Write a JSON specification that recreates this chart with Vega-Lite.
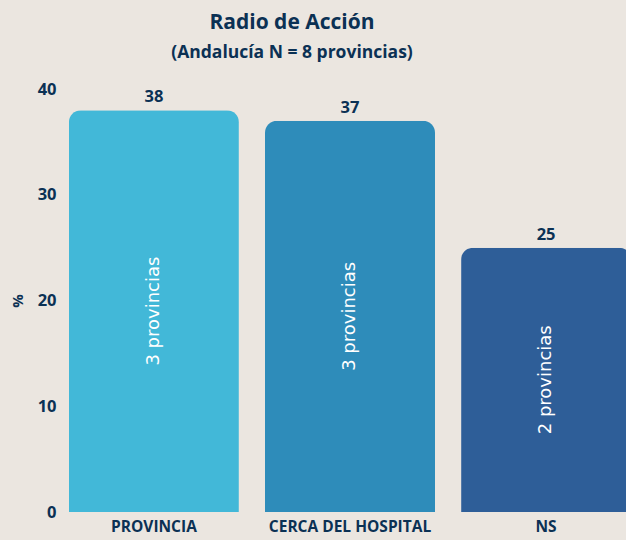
{
  "$schema": "https://vega.github.io/schema/vega-lite/v6.json",
  "width": 570,
  "height": 423,
  "autosize": "none",
  "padding": {"left": 65, "top": 89, "right": 0, "bottom": 28},
  "background": "#ebe6e0",
  "title": {
    "text": "Radio de Acción",
    "subtitle": "(Andalucía N = 8 provincias)",
    "anchor": "middle",
    "dx": -58,
    "font": "Open Sans",
    "fontSize": 21,
    "fontWeight": "bold",
    "color": "#0b3154",
    "subtitleFont": "Open Sans",
    "subtitleFontSize": 17.5,
    "subtitleFontWeight": "bold",
    "subtitleColor": "#0b3154",
    "subtitlePadding": 11,
    "offset": 20
  },
  "data": {
    "values": [
      {"cat": "PROVINCIA", "pct": 38, "label": "3 provincias"},
      {"cat": "CERCA DEL HOSPITAL", "pct": 37, "label": "3 provincias"},
      {"cat": "NS", "pct": 25, "label": "2 provincias"}
    ]
  },
  "config": {
    "view": {"stroke": null},
    "axis": {"labelFont": "Open Sans", "titleFont": "Open Sans", "labelColor": "#0b3154", "titleColor": "#0b3154"}
  },
  "encoding": {
    "x": {
      "field": "cat",
      "type": "nominal",
      "sort": null,
      "scale": {"paddingInner": 0.133, "paddingOuter": 0.02},
      "axis": {"title": null, "labelAngle": 0, "ticks": false, "domain": false, "labelFontSize": 15.5, "labelFontWeight": "bold", "labelPadding": 7}
    },
    "y": {
      "field": "pct",
      "type": "quantitative",
      "scale": {"domain": [0, 40]},
      "axis": {"title": "%", "titleFontSize": 15, "titleFontWeight": "bold", "titlePadding": 12, "values": [0, 10, 20, 30, 40], "grid": false, "ticks": false, "domain": false, "labelFontSize": 16.5, "labelFontWeight": "bold", "labelPadding": 9}
    }
  },
  "layer": [
    {
      "mark": {"type": "bar", "cornerRadiusTopLeft": 12, "cornerRadiusTopRight": 12},
      "encoding": {
        "color": {
          "field": "cat",
          "type": "nominal",
          "sort": null,
          "scale": {"range": ["#42b8d8", "#2e8cba", "#2e5e98"]},
          "legend": null
        }
      }
    },
    {
      "mark": {"type": "text", "dy": -5, "baseline": "bottom", "font": "Open Sans", "fontSize": 16.5, "fontWeight": "bold", "color": "#0b3154"},
      "encoding": {
        "text": {"field": "pct", "type": "quantitative"}
      }
    },
    {
      "transform": [{"calculate": "datum.pct / 2", "as": "mid"}],
      "mark": {"type": "text", "angle": 270, "align": "center", "baseline": "middle", "font": "DejaVu Sans", "fontSize": 18, "color": "#ffffff"},
      "encoding": {
        "y": {"field": "mid", "type": "quantitative"},
        "text": {"field": "label", "type": "nominal"}
      }
    }
  ]
}
